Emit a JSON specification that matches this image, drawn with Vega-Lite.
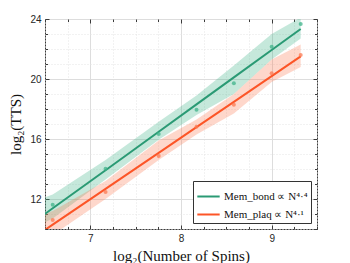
{
  "$schema": "https://vega.github.io/schema/vega-lite/v6.json",
  "width": 272,
  "height": 210,
  "autosize": "none",
  "padding": {"left": 45, "top": 19, "right": 33, "bottom": 34},
  "background": "white",
  "config": {
    "view": {"stroke": "#3a3a3a", "strokeWidth": 1},
    "axis": {
      "labelFont": "Liberation Sans",
      "labelFontSize": 10,
      "labelColor": "#262626",
      "titleFont": "Liberation Serif",
      "titleFontSize": 15,
      "titleFontWeight": "normal",
      "titleColor": "#111111",
      "domain": false,
      "tickColor": "#3a3a3a"
    },
    "legend": {
      "orient": "bottom-right",
      "offset": 6,
      "fillColor": "white",
      "strokeColor": "#333333",
      "padding": 3,
      "symbolType": "stroke",
      "symbolSize": 500,
      "symbolStrokeWidth": 2,
      "labelFont": "Liberation Serif",
      "labelFontSize": 11,
      "labelColor": "#111111",
      "labelOffset": 3,
      "rowPadding": 0,
      "cornerRadius": 0
    }
  },
  "data": {
    "values": [
      {"series": "bond", "n": 6.45, "tts": null, "lo": 10.3, "hi": 12.0, "fit": 10.79},
      {"series": "bond", "n": 6.585, "tts": 11.62, "lo": 10.7, "hi": 12.3, "fit": 11.38},
      {"series": "bond", "n": 7.168, "tts": 14.02, "lo": 13.3, "hi": 14.6, "fit": 13.92},
      {"series": "bond", "n": 7.754, "tts": 16.33, "lo": 15.95, "hi": 17.15, "fit": 16.48},
      {"series": "bond", "n": 8.171, "tts": 17.95, "lo": 17.6, "hi": 18.9, "fit": 18.31},
      {"series": "bond", "n": 8.583, "tts": 19.71, "lo": 19.0, "hi": 20.9, "fit": 20.11},
      {"series": "bond", "n": 9.0, "tts": 22.15, "lo": 21.3, "hi": 23.0, "fit": 21.93},
      {"series": "bond", "n": 9.32, "tts": 23.67, "lo": 22.7, "hi": 24.1, "fit": 23.33},
      {"series": "plaq", "n": 6.45, "tts": null, "lo": 9.0, "hi": 10.9, "fit": 9.74},
      {"series": "plaq", "n": 6.585, "tts": 10.6, "lo": 9.6, "hi": 11.2, "fit": 10.29},
      {"series": "plaq", "n": 7.168, "tts": 12.47, "lo": 12.0, "hi": 13.2, "fit": 12.68},
      {"series": "plaq", "n": 7.754, "tts": 14.87, "lo": 14.6, "hi": 15.9, "fit": 15.08},
      {"series": "plaq", "n": 8.171, "tts": 16.82, "lo": 16.3, "hi": 17.3, "fit": 16.79},
      {"series": "plaq", "n": 8.583, "tts": 18.29, "lo": 17.7, "hi": 19.0, "fit": 18.48},
      {"series": "plaq", "n": 9.0, "tts": 20.38, "lo": 19.8, "hi": 21.3, "fit": 20.19},
      {"series": "plaq", "n": 9.32, "tts": 21.6, "lo": 20.8, "hi": 22.3, "fit": 21.51}
    ]
  },
  "resolve": {"axis": {"x": "independent", "y": "independent"}},
  "layer": [
    {
      "mark": {"type": "area", "opacity": 0.3, "clip": true},
      "encoding": {
        "x": {"field": "n", "type": "quantitative", "scale": {"domain": [6.5, 9.5], "nice": false, "zero": false},
          "axis": {
            "values": [6.5, 6.75, 7, 7.25, 7.5, 7.75, 8, 8.25, 8.5, 8.75, 9, 9.25, 9.5],
            "labelExpr": "datum.value % 1 === 0 ? '' + datum.value : ''",
            "title": "log₂(Number of Spins)",
            "titlePadding": 5,
            "labelPadding": 8,
            "tickSize": {"condition": {"test": "datum.value % 1 === 0", "value": -4}, "value": -2.5},
            "gridColor": {"condition": {"test": "datum.value % 1 === 0", "value": "#dddddd"}, "value": "#e4e4e4"},
            "gridDash": {"condition": {"test": "datum.value % 1 === 0", "value": []}, "value": [1, 2]}
          }},
        "y": {"field": "lo", "type": "quantitative", "scale": {"domain": [10, 24], "nice": false, "zero": false},
          "axis": {
            "values": [10, 11, 12, 13, 14, 15, 16, 17, 18, 19, 20, 21, 22, 23, 24],
            "labelExpr": "datum.value % 4 === 0 ? '' + datum.value : ''",
            "title": "log₂(TTS)",
            "titlePadding": 6,
            "labelPadding": 8,
            "tickSize": {"condition": {"test": "datum.value % 4 === 0", "value": -4}, "value": -2.5},
            "gridColor": {"condition": {"test": "datum.value % 4 === 0", "value": "#dddddd"}, "value": "#e4e4e4"},
            "gridDash": {"condition": {"test": "datum.value % 4 === 0", "value": []}, "value": [1, 2]}
          }},
        "y2": {"field": "hi"},
        "fill": {"field": "series", "type": "nominal", "scale": {"range": ["#3fb389", "#fb7a52"]}, "legend": null}
      }
    },
    {
      "mark": {"type": "line", "strokeWidth": 2, "clip": true},
      "encoding": {
        "x": {"field": "n", "type": "quantitative", "axis": {
            "orient": "top", "values": [6.5, 6.75, 7, 7.25, 7.5, 7.75, 8, 8.25, 8.5, 8.75, 9, 9.25, 9.5],
            "labels": false, "grid": false, "title": null,
            "tickSize": {"condition": {"test": "datum.value % 1 === 0", "value": -4}, "value": -2.5}}},
        "y": {"field": "fit", "type": "quantitative", "axis": {
            "orient": "right", "values": [10, 11, 12, 13, 14, 15, 16, 17, 18, 19, 20, 21, 22, 23, 24],
            "labels": false, "grid": false, "title": null,
            "tickSize": {"condition": {"test": "datum.value % 4 === 0", "value": -4}, "value": -2.5}}},
        "color": {"field": "series", "type": "nominal",
          "scale": {"domain": ["bond", "plaq"], "range": ["#2a9a74", "#fc5527"]},
          "legend": {"title": null, "labelExpr": "datum.value === 'bond' ? 'Mem_bond ∝ N⁴·⁴' : 'Mem_plaq ∝ N⁴·¹'"}}
      }
    },
    {
      "mark": {"type": "circle", "size": 16, "opacity": 0.75},
      "encoding": {
        "x": {"field": "n", "type": "quantitative", "axis": null},
        "y": {"field": "tts", "type": "quantitative", "axis": null},
        "fill": {"field": "series", "type": "nominal", "legend": null}
      }
    }
  ]
}
